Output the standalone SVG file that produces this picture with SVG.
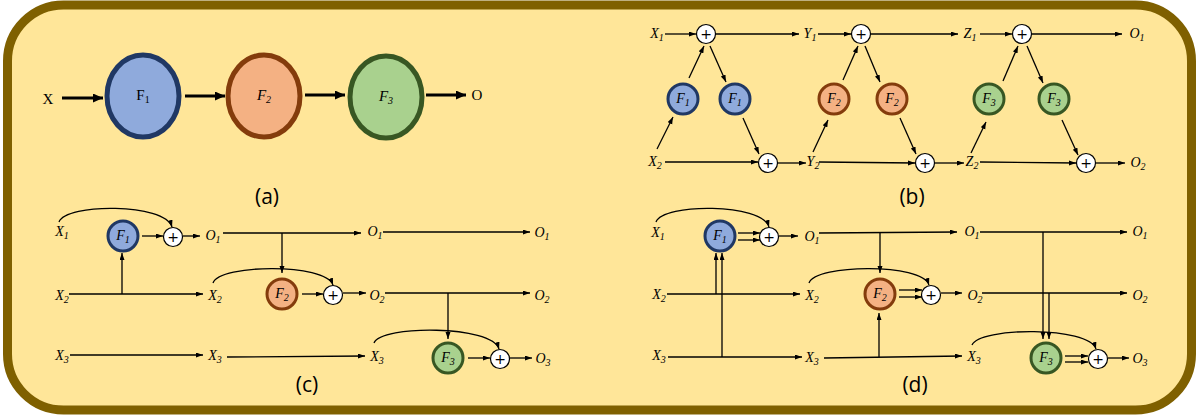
<svg xmlns="http://www.w3.org/2000/svg" width="1199" height="419" viewBox="0 0 1199 419">
<defs>
<style>
.v{font-family:"Liberation Serif","DejaVu Serif",serif;font-style:italic;font-size:14px;fill:#000;text-anchor:middle}
.u{font-family:"Liberation Serif","DejaVu Serif",serif;font-size:15px;fill:#000;text-anchor:middle}
.s{font-size:10px}
.cap{font-family:"Open Sans","Liberation Sans",sans-serif;font-size:21px;fill:#000;text-anchor:middle}
.ln{fill:none;stroke:#000;stroke-width:1.3}
.a{marker-end:url(#ah)}
.th{fill:none;stroke:#000;stroke-width:3;marker-end:url(#ahb)}
.f1{fill:#8faadc;stroke:#203864;stroke-width:3}
.f2{fill:#f4b183;stroke:#843c0c;stroke-width:3}
.f3{fill:#a9d18e;stroke:#385723;stroke-width:3}
.big{stroke-width:5}
.p{fill:#fff;stroke:#000;stroke-width:1.2}
.pt{font-family:"DejaVu Sans",sans-serif;font-size:14px;text-anchor:middle;fill:#000}
</style>
<marker id="ah" markerUnits="userSpaceOnUse" markerWidth="8" markerHeight="6" refX="7" refY="2.5" orient="auto"><path d="M0,0 L7,2.5 L0,5 z" fill="#000"/></marker>
<marker id="ahb" markerUnits="userSpaceOnUse" markerWidth="11" markerHeight="10" refX="10" refY="4.5" orient="auto"><path d="M0,0 L10,4.5 L0,9 z" fill="#000"/></marker>
</defs>
<rect x="7.5" y="5" width="1184" height="405" rx="56" ry="56" fill="#ffe699" stroke="#7f6000" stroke-width="9"/>

<!-- Panel (a) -->
<g id="a-X"><text class="u" x="48" y="104">X</text></g>
<g id="a-F1"><ellipse class="f1 big" cx="143" cy="96" rx="36" ry="41"/><text class="u" x="143" y="100">F<tspan class="s" dy="3">1</tspan></text></g>
<g id="a-F2"><ellipse class="f2 big" cx="264" cy="96" rx="36" ry="41"/><text class="v" x="264" y="100" style="font-size:15px">F<tspan class="s" dy="3">2</tspan></text></g>
<g id="a-F3"><ellipse class="f3 big" cx="386" cy="97" rx="36" ry="41"/><text class="v" x="386" y="101" style="font-size:15px">F<tspan class="s" dy="3">3</tspan></text></g>
<g id="a-O"><text class="u" x="477" y="100">O</text></g>
<text class="cap" x="267" y="204">(a)</text>

<!-- Panel (b) nodes -->
<g id="b-F1L"><circle class="f1" cx="683" cy="99" r="15"/><text class="v" x="683" y="103">F<tspan class="s" dy="3">1</tspan></text></g>
<g id="b-F1R"><circle class="f1" cx="735" cy="99" r="15"/><text class="v" x="735" y="103">F<tspan class="s" dy="3">1</tspan></text></g>
<g id="b-F2L"><circle class="f2" cx="834" cy="99" r="15"/><text class="v" x="834" y="103">F<tspan class="s" dy="3">2</tspan></text></g>
<g id="b-F2R"><circle class="f2" cx="892" cy="99" r="15"/><text class="v" x="892" y="103">F<tspan class="s" dy="3">2</tspan></text></g>
<g id="b-F3L"><circle class="f3" cx="989" cy="99" r="15"/><text class="v" x="989" y="103">F<tspan class="s" dy="3">3</tspan></text></g>
<g id="b-F3R"><circle class="f3" cx="1054" cy="99" r="15"/><text class="v" x="1054" y="103">F<tspan class="s" dy="3">3</tspan></text></g>
<g id="b-P1"><circle class="p" cx="706" cy="34" r="9.5"/><text class="pt" x="706" y="39">+</text></g>
<g id="b-P2"><circle class="p" cx="861" cy="34" r="9.5"/><text class="pt" x="861" y="39">+</text></g>
<g id="b-P3"><circle class="p" cx="1022" cy="34" r="9.5"/><text class="pt" x="1022" y="39">+</text></g>
<g id="b-Q1"><circle class="p" cx="768" cy="163" r="9.5"/><text class="pt" x="768" y="168">+</text></g>
<g id="b-Q2"><circle class="p" cx="925" cy="163" r="9.5"/><text class="pt" x="925" y="168">+</text></g>
<g id="b-Q3"><circle class="p" cx="1086" cy="163" r="9.5"/><text class="pt" x="1086" y="168">+</text></g>
<g id="b-labels">
<text class="v" x="657" y="38">X<tspan class="s" dy="3">1</tspan></text>
<text class="v" x="810" y="38">Y<tspan class="s" dy="3">1</tspan></text>
<text class="v" x="970" y="38">Z<tspan class="s" dy="3">1</tspan></text>
<text class="v" x="1137" y="38">O<tspan class="s" dy="3">1</tspan></text>
<text class="v" x="655" y="166">X<tspan class="s" dy="3">2</tspan></text>
<text class="v" x="813" y="166">Y<tspan class="s" dy="3">2</tspan></text>
<text class="v" x="972" y="166">Z<tspan class="s" dy="3">2</tspan></text>
<text class="v" x="1138" y="167">O<tspan class="s" dy="3">2</tspan></text>
</g>
<text class="cap" x="912" y="204">(b)</text>

<!-- Panel (c) nodes -->
<g id="c-F1"><circle class="f1" cx="123" cy="236" r="15"/><text class="v" x="123" y="240">F<tspan class="s" dy="3">1</tspan></text></g>
<g id="c-F2"><circle class="f2" cx="282" cy="294" r="15"/><text class="v" x="282" y="298">F<tspan class="s" dy="3">2</tspan></text></g>
<g id="c-F3"><circle class="f3" cx="448" cy="358" r="15"/><text class="v" x="448" y="362">F<tspan class="s" dy="3">3</tspan></text></g>
<g id="c-P1"><circle class="p" cx="173" cy="237" r="9.5"/><text class="pt" x="173" y="242">+</text></g>
<g id="c-P2"><circle class="p" cx="333" cy="295" r="9.5"/><text class="pt" x="333" y="300">+</text></g>
<g id="c-P3"><circle class="p" cx="500" cy="359" r="9.5"/><text class="pt" x="500" y="364">+</text></g>
<g id="c-labels">
<text class="v" x="62" y="236">X<tspan class="s" dy="3">1</tspan></text>
<text class="v" x="213" y="240">O<tspan class="s" dy="3">1</tspan></text>
<text class="v" x="375" y="236">O<tspan class="s" dy="3">1</tspan></text>
<text class="v" x="542" y="237">O<tspan class="s" dy="3">1</tspan></text>
<text class="v" x="62" y="300">X<tspan class="s" dy="3">2</tspan></text>
<text class="v" x="215" y="300">X<tspan class="s" dy="3">2</tspan></text>
<text class="v" x="377" y="300">O<tspan class="s" dy="3">2</tspan></text>
<text class="v" x="542" y="300">O<tspan class="s" dy="3">2</tspan></text>
<text class="v" x="62" y="360">X<tspan class="s" dy="3">3</tspan></text>
<text class="v" x="215" y="360">X<tspan class="s" dy="3">3</tspan></text>
<text class="v" x="377" y="361">X<tspan class="s" dy="3">3</tspan></text>
<text class="v" x="543" y="363">O<tspan class="s" dy="3">3</tspan></text>
</g>
<text class="cap" x="307" y="392">(c)</text>

<!-- Panel (d) nodes -->
<g id="d-F1"><circle class="f1" cx="720" cy="236" r="15"/><text class="v" x="720" y="240">F<tspan class="s" dy="3">1</tspan></text></g>
<g id="d-F2"><circle class="f2" cx="880" cy="294" r="15"/><text class="v" x="880" y="298">F<tspan class="s" dy="3">2</tspan></text></g>
<g id="d-F3"><circle class="f3" cx="1046" cy="358" r="15"/><text class="v" x="1046" y="362">F<tspan class="s" dy="3">3</tspan></text></g>
<g id="d-P1"><circle class="p" cx="769" cy="237" r="9.5"/><text class="pt" x="769" y="242">+</text></g>
<g id="d-P2"><circle class="p" cx="931" cy="295" r="9.5"/><text class="pt" x="931" y="300">+</text></g>
<g id="d-P3"><circle class="p" cx="1098" cy="359" r="9.5"/><text class="pt" x="1098" y="364">+</text></g>
<g id="d-labels">
<text class="v" x="658" y="237">X<tspan class="s" dy="3">1</tspan></text>
<text class="v" x="812" y="241">O<tspan class="s" dy="3">1</tspan></text>
<text class="v" x="972" y="236">O<tspan class="s" dy="3">1</tspan></text>
<text class="v" x="1140" y="236">O<tspan class="s" dy="3">1</tspan></text>
<text class="v" x="659" y="299">X<tspan class="s" dy="3">2</tspan></text>
<text class="v" x="812" y="300">X<tspan class="s" dy="3">2</tspan></text>
<text class="v" x="975" y="300">O<tspan class="s" dy="3">2</tspan></text>
<text class="v" x="1140" y="300">O<tspan class="s" dy="3">2</tspan></text>
<text class="v" x="659" y="360">X<tspan class="s" dy="3">3</tspan></text>
<text class="v" x="812" y="362">X<tspan class="s" dy="3">3</tspan></text>
<text class="v" x="974" y="361">X<tspan class="s" dy="3">3</tspan></text>
<text class="v" x="1140" y="363">O<tspan class="s" dy="3">3</tspan></text>
</g>
<text class="cap" x="915" y="392">(d)</text>

<!-- Connectors -->
<g id="connectors">
<!-- (a) -->
<line class="th" x1="62" y1="98" x2="103" y2="98"/>
<line class="th" x1="185" y1="96" x2="225" y2="96"/>
<line class="th" x1="305" y1="95" x2="345" y2="95"/>
<line class="th" x1="426" y1="95" x2="466" y2="95"/>
<!-- (b) -->
<line class="ln a" x1="665" y1="34" x2="696" y2="34"/>
<line class="ln a" x1="716" y1="34" x2="799" y2="34"/>
<line class="ln a" x1="818" y1="34" x2="851" y2="34"/>
<line class="ln a" x1="871" y1="34" x2="958" y2="34"/>
<line class="ln a" x1="980" y1="34" x2="1012" y2="34"/>
<line class="ln a" x1="1032" y1="34" x2="1122" y2="34"/>
<line class="ln a" x1="657" y1="149" x2="673" y2="117"/>
<line class="ln a" x1="689" y1="78" x2="704" y2="46"/>
<line class="ln a" x1="710" y1="46" x2="726" y2="82"/>
<line class="ln a" x1="743" y1="118" x2="759" y2="154"/>
<line class="ln a" x1="665" y1="162" x2="758" y2="162"/>
<line class="ln a" x1="778" y1="163" x2="806" y2="163"/>
<line class="ln a" x1="813" y1="152" x2="828" y2="120"/>
<line class="ln a" x1="843" y1="80" x2="858" y2="46"/>
<line class="ln a" x1="865" y1="46" x2="880" y2="82"/>
<line class="ln a" x1="900" y1="118" x2="916" y2="154"/>
<line class="ln a" x1="819" y1="162" x2="915" y2="163"/>
<line class="ln a" x1="935" y1="163" x2="964" y2="163"/>
<line class="ln a" x1="971" y1="153" x2="986" y2="122"/>
<line class="ln a" x1="1003" y1="81" x2="1018" y2="46"/>
<line class="ln a" x1="1027" y1="46" x2="1043" y2="83"/>
<line class="ln a" x1="1062" y1="120" x2="1078" y2="155"/>
<line class="ln a" x1="980" y1="162" x2="1076" y2="163"/>
<line class="ln a" x1="1096" y1="163" x2="1125" y2="163"/>
<!-- (c) -->
<path class="ln a" d="M59,222 C66,203 165,203 172,227"/>
<line class="ln a" x1="142" y1="236" x2="163" y2="236"/>
<line class="ln a" x1="183" y1="236" x2="200" y2="236"/>
<line class="ln a" x1="223" y1="233" x2="361" y2="233"/>
<line class="ln a" x1="383" y1="232" x2="530" y2="232"/>
<line class="ln a" x1="282" y1="233" x2="282" y2="273"/>
<line class="ln a" x1="69" y1="294" x2="203" y2="294"/>
<line class="ln a" x1="122" y1="294" x2="122" y2="253"/>
<path class="ln a" d="M213,283 C220,264 325,263 333,285"/>
<line class="ln a" x1="302" y1="294" x2="323" y2="294"/>
<line class="ln a" x1="343" y1="293" x2="366" y2="293"/>
<line class="ln a" x1="385" y1="293" x2="530" y2="293"/>
<line class="ln a" x1="448" y1="293" x2="448" y2="339"/>
<line class="ln a" x1="70" y1="355" x2="203" y2="355"/>
<line class="ln a" x1="227" y1="357" x2="365" y2="356"/>
<path class="ln a" d="M374,343 C381,325 492,325 499,349"/>
<line class="ln a" x1="468" y1="358" x2="490" y2="358"/>
<line class="ln a" x1="510" y1="358" x2="532" y2="358"/>
<!-- (d) -->
<path class="ln a" d="M656,222 C663,203 762,203 769,227"/>
<line class="ln a" x1="738" y1="233" x2="760" y2="233"/>
<line class="ln a" x1="738" y1="240" x2="760" y2="240"/>
<line class="ln a" x1="779" y1="236" x2="798" y2="236"/>
<line class="ln a" x1="819" y1="233" x2="957" y2="232"/>
<line class="ln a" x1="980" y1="232" x2="1127" y2="232"/>
<line class="ln a" x1="880" y1="233" x2="880" y2="273"/>
<line class="ln a" x1="667" y1="294" x2="800" y2="294"/>
<line class="ln a" x1="716" y1="294" x2="716" y2="253"/>
<line class="ln a" x1="722" y1="357" x2="722" y2="253"/>
<path class="ln a" d="M809,283 C816,264 922,263 929,285"/>
<line class="ln a" x1="899" y1="290" x2="922" y2="290"/>
<line class="ln a" x1="899" y1="297" x2="922" y2="297"/>
<line class="ln a" x1="941" y1="293" x2="962" y2="293"/>
<line class="ln a" x1="982" y1="293" x2="1127" y2="293"/>
<line class="ln a" x1="668" y1="357" x2="802" y2="357"/>
<line class="ln a" x1="824" y1="358" x2="962" y2="356"/>
<line class="ln a" x1="879" y1="357" x2="879" y2="313"/>
<line class="ln a" x1="1043" y1="232" x2="1043" y2="339"/>
<line class="ln a" x1="1049" y1="293" x2="1049" y2="339"/>
<path class="ln a" d="M972,345 C979,327 1089,326 1096,349"/>
<line class="ln a" x1="1065" y1="356" x2="1088" y2="356"/>
<line class="ln a" x1="1065" y1="362" x2="1088" y2="362"/>
<line class="ln a" x1="1108" y1="358" x2="1129" y2="358"/>
</g>
</svg>
